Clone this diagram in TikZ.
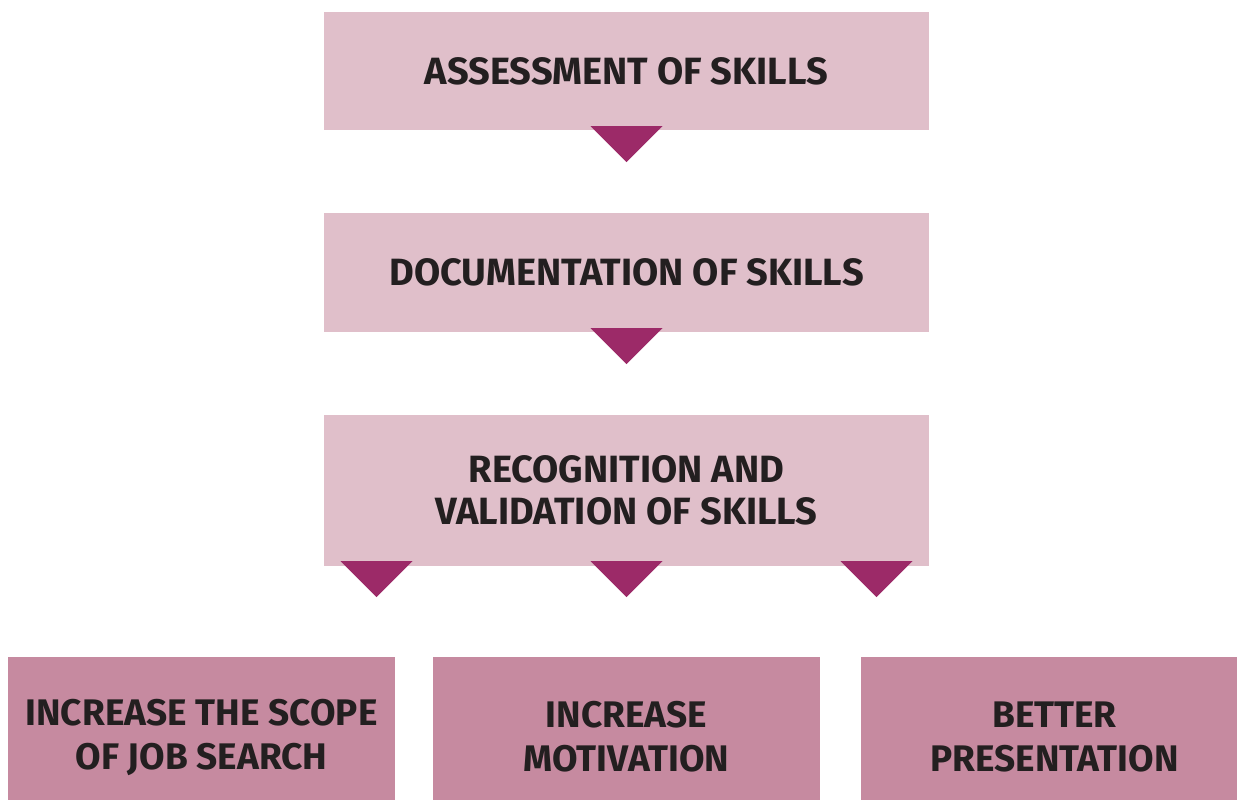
\documentclass[tikz,border=0pt]{standalone}
\usepackage{fontspec}
\setmainfont{Fira Sans}
\usetikzlibrary{calc}
\definecolor{boxlight}{HTML}{E0BFCA}
\definecolor{boxdark}{HTML}{C68AA0}
\definecolor{tricol}{HTML}{9C2A68}
\definecolor{txt}{HTML}{231F20}
\tikzset{
  stage/.style={fill=boxlight, draw=none, inner sep=0pt, align=center, text=txt,
    font=\bfseries\fontsize{38}{42.5}\selectfont, minimum width=605pt},
  result/.style={fill=boxdark, draw=none, inner sep=0pt, align=center, text=txt,
    font=\bfseries\fontsize{37}{44}\selectfont, minimum height=160pt, minimum width=387pt},
  tri/.style={fill=tricol, draw=none}
}
\begin{document}
\begin{tikzpicture}[x=1pt,y=-1pt]
\useasboundingbox (0,0) rectangle (1237,800);
\node[stage, minimum height=118pt] (a) at (626.5,71) {ASSESSMENT OF SKILLS};
\node[stage, minimum height=119pt] (b) at (626.5,272.5) {DOCUMENTATION OF SKILLS};
\node[stage, minimum height=151pt] (c) at (626.5,490.5) {RECOGNITION AND\\VALIDATION OF SKILLS};
\node[result] (d) at (201.5,737) {INCREASE THE SCOPE\\OF JOB SEARCH};
\node[result] (e) at (626.5,737) {INCREASE\\MOTIVATION};
\node[result] (f) at (1054.5,737) {BETTER\\PRESENTATION};
\fill[tri] ($(a.south)+(-36,-4)$) -- ($(a.south)+(36,-4)$) -- ($(a.south)+(0,32)$) -- cycle;
\fill[tri] ($(b.south)+(-36,-4)$) -- ($(b.south)+(36,-4)$) -- ($(b.south)+(0,32)$) -- cycle;
\foreach \dx in {-250,0,250}{
  \fill[tri] ($(c.south)+(\dx-36,-5)$) -- ($(c.south)+(\dx+36,-5)$) -- ($(c.south)+(\dx,31)$) -- cycle;
}
\end{tikzpicture}
\end{document}
